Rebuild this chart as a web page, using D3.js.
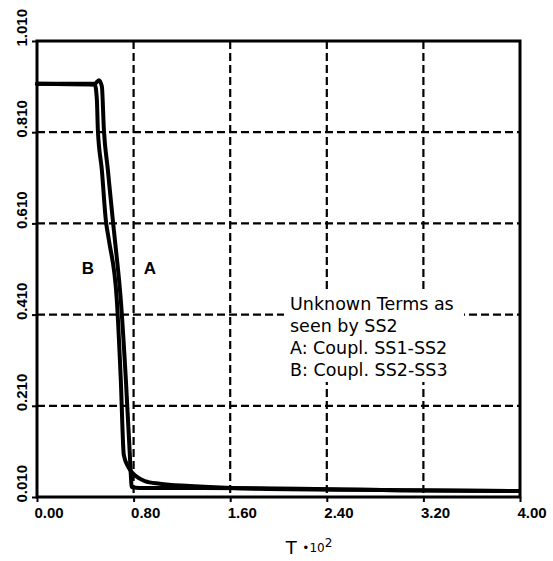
<!DOCTYPE html>
<html>
<head>
<meta charset="utf-8">
<script src="https://cdn.jsdelivr.net/npm/d3@7/dist/d3.min.js"></script>
<style>
  body { margin: 0; background: #fff; }
  svg { display: block; }
  .tk { font-family: "Liberation Sans", Arial, sans-serif; font-weight: bold; font-size: 15px; }
</style>
</head>
<body>
<svg id="chart"></svg>
<script>
// tick values
const xTicks = [0.00, 0.80, 1.60, 2.40, 3.20, 4.00];
const yTicks = [0.010, 0.210, 0.410, 0.610, 0.810, 1.010];

// curve A: coupling SS1-SS2
const tA = [0, 0.479, 0.512, 0.537, 0.554, 0.587, 0.628, 0.645, 0.694, 0.736, 0.769, 0.777, 0.785, 0.851, 1.347, 2.174, 3.000, 3.992];
const vA = [0.916, 0.916, 0.924, 0.911, 0.815, 0.727, 0.617, 0.574, 0.442, 0.267, 0.102, 0.058, 0.032, 0.030, 0.030, 0.028, 0.025, 0.023];

// curve B: coupling SS2-SS3
const tB = [0, 0.479, 0.496, 0.504, 0.537, 0.570, 0.595, 0.661, 0.694, 0.719, 0.760, 0.818, 0.893, 1.017, 1.264, 1.843, 3.000, 3.992];
const vB = [0.916, 0.914, 0.881, 0.815, 0.727, 0.617, 0.574, 0.442, 0.267, 0.102, 0.074, 0.056, 0.045, 0.039, 0.034, 0.028, 0.025, 0.023];

const legendLines = ["Unknown Terms as", "seen by SS2", "A: Coupl. SS1-SS2", "B: Coupl. SS2-SS3"];

const width = 553, height = 561;
const margin = {left: 37, right: 33, top: 41, bottom: 64};

const svg = d3.select("#chart").attr("width", width).attr("height", height);

const x = d3.scaleLinear().domain([0, 4]).range([margin.left, width - margin.right]);
const y = d3.scaleLinear().domain([0.010, 1.010]).range([height - margin.bottom, margin.top]);

const textFont = "'DejaVu Sans', sans-serif";
const boldFont = "'Liberation Sans', Arial, sans-serif";

// dashed grid
const grid = svg.append("g").attr("class", "grid")
    .attr("stroke", "#000").attr("stroke-width", 2.2).attr("stroke-dasharray", "8,4");
grid.selectAll("line.gx")
    .data(xTicks.slice(1, -1))
    .enter().append("line")
    .attr("x1", d => x(d)).attr("x2", d => x(d))
    .attr("y1", y(1.010)).attr("y2", y(0.010));
grid.selectAll("line.gy")
    .data(yTicks.slice(1, -1))
    .enter().append("line")
    .attr("y1", d => y(d)).attr("y2", d => y(d))
    .attr("x1", x(0)).attr("x2", x(4));

// axes
const xAxis = d3.axisBottom(x).tickValues(xTicks).tickSize(5).tickFormat(d3.format(".2f"));
const yAxis = d3.axisLeft(y).tickValues(yTicks).tickSize(5).tickFormat(d3.format(".3f"));

const gx = svg.append("g").attr("transform", `translate(0,${y(0.010)})`).call(xAxis)
    .attr("font-family", null).attr("font-size", null);
gx.select(".domain").remove();
gx.selectAll(".tick line").attr("stroke-width", 2);
gx.selectAll(".tick text").attr("class", "tk")
    .attr("text-anchor", "start").attr("x", -3).attr("y", 10).attr("dy", "0.71em");

const gy = svg.append("g").attr("transform", `translate(${x(0)},0)`).call(yAxis)
    .attr("font-family", null).attr("font-size", null);
gy.select(".domain").remove();
gy.selectAll(".tick line").attr("stroke-width", 2);
gy.selectAll(".tick text").attr("class", "tk")
    .attr("text-anchor", "start").attr("x", null).attr("dy", null)
    .attr("transform", "translate(-10,5) rotate(-90)");

// frame
svg.append("rect")
    .attr("x", x(0)).attr("y", y(1.010))
    .attr("width", x(4) - x(0)).attr("height", y(0.010) - y(1.010))
    .attr("fill", "none").attr("stroke", "#000").attr("stroke-width", 3);

// legend box (white behind text, breaks the grid)
const lg = svg.append("g").attr("class", "legend");
lg.append("rect")
    .attr("x", 284).attr("y", 292).attr("width", 180).attr("height", 90)
    .attr("fill", "#fff");
lg.selectAll("text")
    .data(legendLines)
    .enter().append("text")
    .attr("x", 290).attr("y", (d, i) => 310 + i * 22)
    .attr("font-family", textFont)
    .attr("font-size", 17.5)
    .text(d => d);

// curves
const line = d3.line()
    .x(d => x(d[0])).y(d => y(d[1]))
    .curve(d3.curveMonotoneX);

const curves = [
    {name: "A", pts: d3.zip(tA, vA)},
    {name: "B", pts: d3.zip(tB, vB)}
];
svg.append("g").selectAll("path")
    .data(curves)
    .enter().append("path")
    .attr("d", d => line(d.pts))
    .attr("fill", "none").attr("stroke", "#000")
    .attr("stroke-width", 4).attr("stroke-linejoin", "round").attr("stroke-linecap", "round");

// curve labels
svg.append("text").attr("x", 88).attr("y", 274).attr("text-anchor", "middle")
    .attr("font-family", boldFont).attr("font-weight", "bold")
    .attr("font-size", 17).text("B");
svg.append("text").attr("x", 150).attr("y", 274).attr("text-anchor", "middle")
    .attr("font-family", boldFont).attr("font-weight", "bold")
    .attr("font-size", 17).text("A");

// x axis title
const title = svg.append("text").attr("x", 309).attr("y", 554).attr("text-anchor", "middle")
    .attr("font-family", textFont).attr("font-size", 18);
title.append("tspan").text("T ");
title.append("tspan").attr("font-size", 12).attr("dy", -2).text("•10");
title.append("tspan").attr("font-size", 12).attr("dy", -5).text("2");
</script>
</body>
</html>
